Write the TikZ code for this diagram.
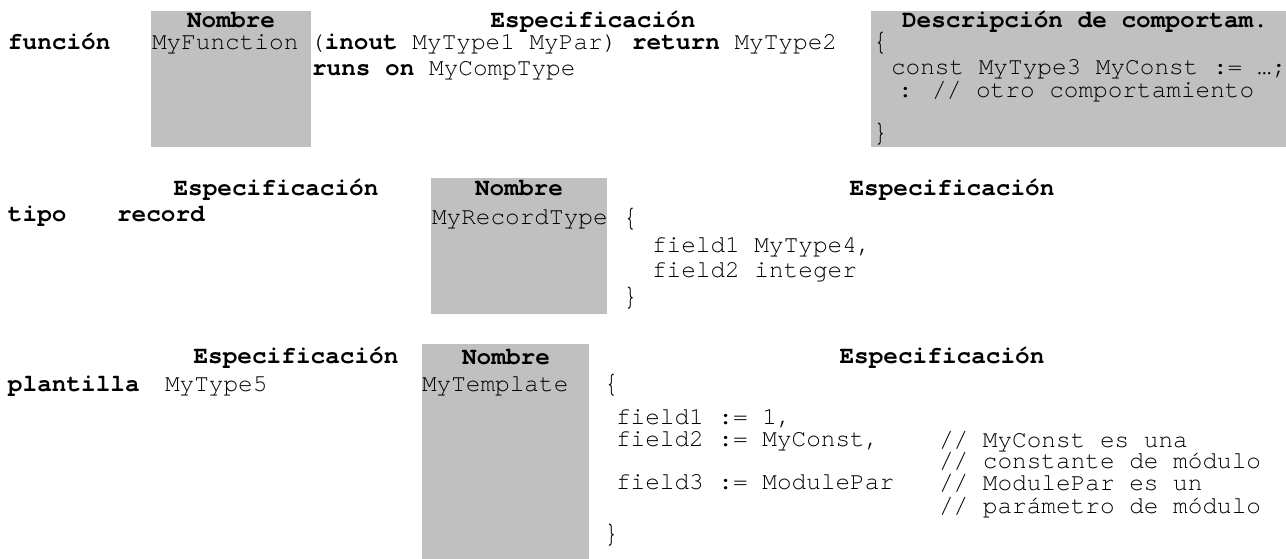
\documentclass[tikz,border=0pt]{standalone}
\usepackage{fontspec}
\setmainfont[Ligatures=NoCommon]{TeX Gyre Cursor}
\setmonofont[Ligatures=NoCommon]{TeX Gyre Cursor}
\definecolor{cellgray}{RGB}{192,192,192}
\newcommand\codesize{\fontsize{24.4}{24.4}\selectfont}
\newcommand\obr{\scalebox{1}[1.25]{\{}}
\newcommand\cbr{\scalebox{1}[1.25]{\}}}
\tikzset{
  txt/.style={anchor=base west, inner sep=0pt, outer sep=0pt, font=\codesize},
  kw/.style={txt, font=\codesize\bfseries},
  hdr/.style={anchor=base, inner sep=0pt, outer sep=0pt, font=\codesize\bfseries},
  cell/.style={fill=cellgray, draw=none}
}
\begin{document}
\begin{tikzpicture}[x=1pt,y=-1pt]
\useasboundingbox (0,0) rectangle (1286,559);

% shaded name / behaviour cells
\fill[cell] (151,11) rectangle (311,147);
\fill[cell] (871,11) rectangle (1286,147);
\fill[cell] (431,178) rectangle (607,314);
\fill[cell] (422,344) rectangle (589,559);

% --- function definition ---
\node[hdr] (n1h) at (231,28) {Nombre};
\node[hdr] (s1h) at (593,28) {Especificación};
\node[kw]  (d1h) at (902,28) {Descripción de comportam.};
\node[kw]  (k1)  at (8,50) {función};
\node[txt] (n1)  at (152,50) {MyFunction};
\node[txt] (s1a) at (310,50) {(\textbf{inout} MyType1 MyPar) \textbf{return} MyType2};
\node[txt] (s1b) at (312,76) {\textbf{runs on} MyCompType};
\node[txt] (d1a) at (873,51) {\obr};
\node[txt] (d1b) at (891,75) {const MyType3 MyConst := …;};
\node[txt] (d1c) at (898,98) {: // otro comportamiento};
\node[txt] (d1d) at (873,142) {\cbr};

% --- record type ---
\node[hdr] (s2h)  at (276,196) {Especificación};
\node[hdr] (n2h)  at (519,196) {Nombre};
\node[hdr] (s2h2) at (952,196) {Especificación};
\node[kw]  (k2)   at (8,222) {tipo};
\node[kw]  (r2)   at (117,222) {record};
\node[txt] (n2)   at (432,224) {MyRecordType};
\node[txt] (b2a)  at (623,226) {\obr};
\node[txt] (f2a)  at (652,252) {field1 MyType4,};
\node[txt] (f2b)  at (652,277) {field2 integer};
\node[txt] (b2b)  at (623,305) {\cbr};

% --- template ---
\node[hdr] (s3h)  at (296,363) {Especificación};
\node[hdr] (n3h)  at (506,364) {Nombre};
\node[hdr] (s3h2) at (942,363) {Especificación};
\node[kw]  (k3)   at (8,391) {plantilla};
\node[txt] (t3)   at (165,391) {MyType5};
\node[txt] (n3)   at (422,391) {MyTemplate};
\node[txt] (b3a)  at (604,392) {\obr};
\node[txt] (f3a)  at (616,424) {field1 := 1,};
\node[txt] (f3b)  at (616,446) {field2 := MyConst,};
\node[txt] (c3a)  at (939,447) {// MyConst es una};
\node[txt] (c3b)  at (939,468) {// constante de módulo};
\node[txt] (f3c)  at (616,489) {field3 := ModulePar};
\node[txt] (c3c)  at (939,490) {// ModulePar es un};
\node[txt] (c3d)  at (939,513) {// parámetro de módulo};
\node[txt] (b3b)  at (604,542) {\cbr};
\end{tikzpicture}
\end{document}
